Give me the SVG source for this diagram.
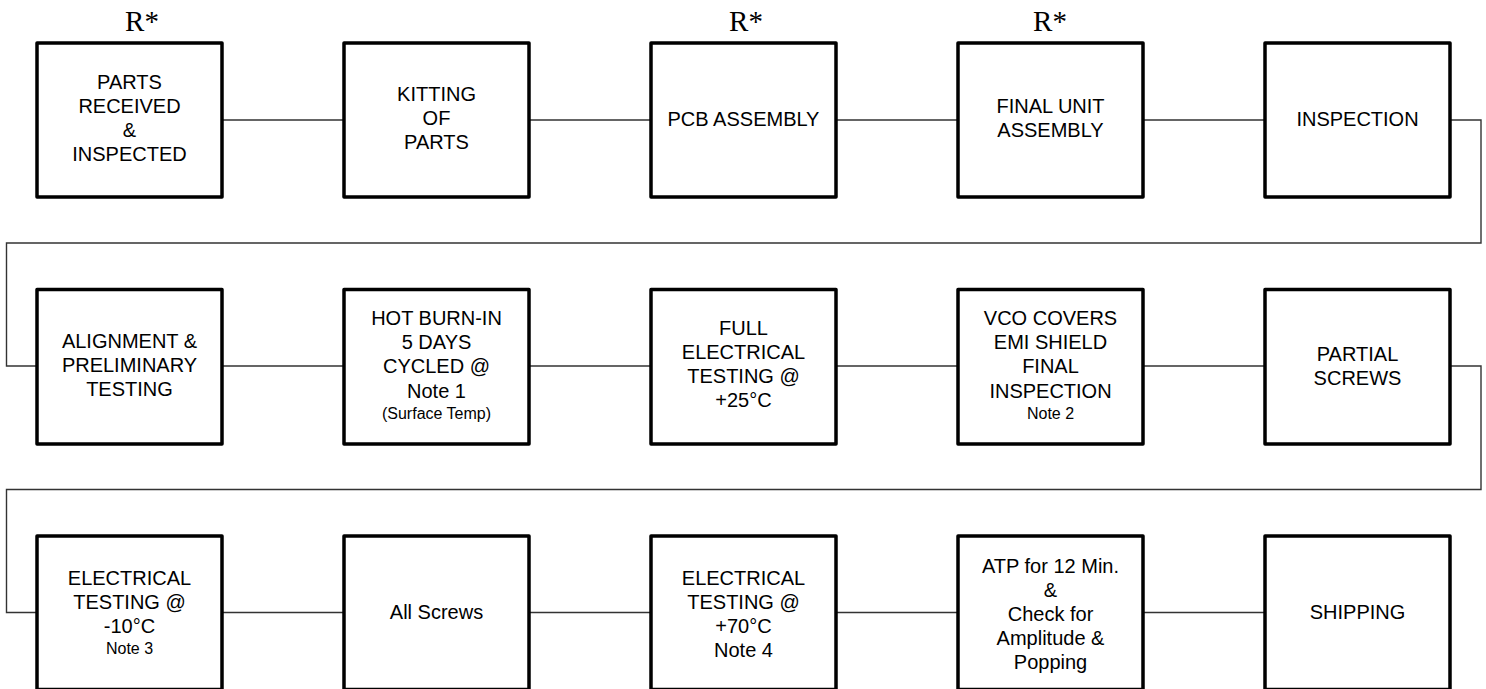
<svg xmlns="http://www.w3.org/2000/svg" width="1486" height="689" viewBox="0 0 1486 689">
<style>
.box{fill:#fff;stroke:#000;stroke-width:3.5;stroke-linejoin:round}
.conn{fill:none;stroke:#333;stroke-width:1.4}
.t{font-family:"Liberation Sans",Arial,sans-serif;font-size:20px;text-anchor:middle;fill:#000}
.s{font-size:16px}
.r{font-family:"Liberation Serif","Times New Roman",serif;font-size:29px;text-anchor:middle;fill:#000}
</style>
<rect width="1486" height="689" fill="#fff"/>
<g id="connectors">
<path class="conn" d="M222 120H344M529 120H651M836 120H958M1143 120H1265"/>
<path class="conn" d="M1450 120H1481V243H6.5V366H37"/>
<path class="conn" d="M222 366H344M529 366H651M836 366H958M1143 366H1265"/>
<path class="conn" d="M1450 366H1481V489.5H6.5V612.5H37"/>
<path class="conn" d="M222 612.5H344M529 612.5H651M836 612.5H958M1143 612.5H1265"/>
</g>
<g id="labels-r">
<text class="r" x="142" y="31">R*</text>
<text class="r" x="746" y="31">R*</text>
<text class="r" x="1050" y="31">R*</text>
</g>
<g id="n1"><rect class="box" x="37" y="43" width="185" height="154"/>
<text class="t" x="129.5" y="89">PARTS</text><text class="t" x="129.5" y="113">RECEIVED</text><text class="t" x="129.5" y="137">&amp;</text><text class="t" x="129.5" y="161">INSPECTED</text></g>
<g id="n2"><rect class="box" x="344" y="43" width="185" height="154"/>
<text class="t" x="436.5" y="101">KITTING</text><text class="t" x="436.5" y="125">OF</text><text class="t" x="436.5" y="149">PARTS</text></g>
<g id="n3"><rect class="box" x="651" y="43" width="185" height="154"/>
<text class="t" x="743.5" y="126">PCB ASSEMBLY</text></g>
<g id="n4"><rect class="box" x="958" y="43" width="185" height="154"/>
<text class="t" x="1050.5" y="113">FINAL UNIT</text><text class="t" x="1050.5" y="137">ASSEMBLY</text></g>
<g id="n5"><rect class="box" x="1265" y="43" width="185" height="154"/>
<text class="t" x="1357.5" y="126">INSPECTION</text></g>

<g id="n6"><rect class="box" x="37" y="289.5" width="185" height="154.5"/>
<text class="t" x="129.5" y="348">ALIGNMENT &amp;</text><text class="t" x="129.5" y="372">PRELIMINARY</text><text class="t" x="129.5" y="396">TESTING</text></g>
<g id="n7"><rect class="box" x="344" y="289.5" width="185" height="154.5"/>
<text class="t" x="436.5" y="325">HOT BURN-IN</text><text class="t" x="436.5" y="349">5 DAYS</text><text class="t" x="436.5" y="373">CYCLED @</text><text class="t" x="436.5" y="398">Note 1</text><text class="t s" x="436.5" y="419">(Surface Temp)</text></g>
<g id="n8"><rect class="box" x="651" y="289.5" width="185" height="154.5"/>
<text class="t" x="743.5" y="335">FULL</text><text class="t" x="743.5" y="359">ELECTRICAL</text><text class="t" x="743.5" y="383">TESTING @</text><text class="t" x="743.5" y="407">+25°C</text></g>
<g id="n9"><rect class="box" x="958" y="289.5" width="185" height="154.5"/>
<text class="t" x="1050.5" y="325">VCO COVERS</text><text class="t" x="1050.5" y="349">EMI SHIELD</text><text class="t" x="1050.5" y="373">FINAL</text><text class="t" x="1050.5" y="398">INSPECTION</text><text class="t s" x="1050.5" y="419">Note 2</text></g>
<g id="n10"><rect class="box" x="1265" y="289.5" width="185" height="154.5"/>
<text class="t" x="1357.5" y="361">PARTIAL</text><text class="t" x="1357.5" y="385">SCREWS</text></g>

<g id="n11"><rect class="box" x="37" y="536" width="185" height="153.5"/>
<text class="t" x="129.5" y="585">ELECTRICAL</text><text class="t" x="129.5" y="609">TESTING @</text><text class="t" x="129.5" y="633">-10°C</text><text class="t s" x="129.5" y="654">Note 3</text></g>
<g id="n12"><rect class="box" x="344" y="536" width="185" height="153.5"/>
<text class="t" x="436.5" y="619">All Screws</text></g>
<g id="n13"><rect class="box" x="651" y="536" width="185" height="153.5"/>
<text class="t" x="743.5" y="585">ELECTRICAL</text><text class="t" x="743.5" y="609">TESTING @</text><text class="t" x="743.5" y="633">+70°C</text><text class="t" x="743.5" y="657">Note 4</text></g>
<g id="n14"><rect class="box" x="958" y="536" width="185" height="153.5"/>
<text class="t" x="1050.5" y="573">ATP for 12 Min.</text><text class="t" x="1050.5" y="597">&amp;</text><text class="t" x="1050.5" y="621">Check for</text><text class="t" x="1050.5" y="645">Amplitude &amp;</text><text class="t" x="1050.5" y="669">Popping</text></g>
<g id="n15"><rect class="box" x="1265" y="536" width="185" height="153.5"/>
<text class="t" x="1357.5" y="619">SHIPPING</text></g>
</svg>
